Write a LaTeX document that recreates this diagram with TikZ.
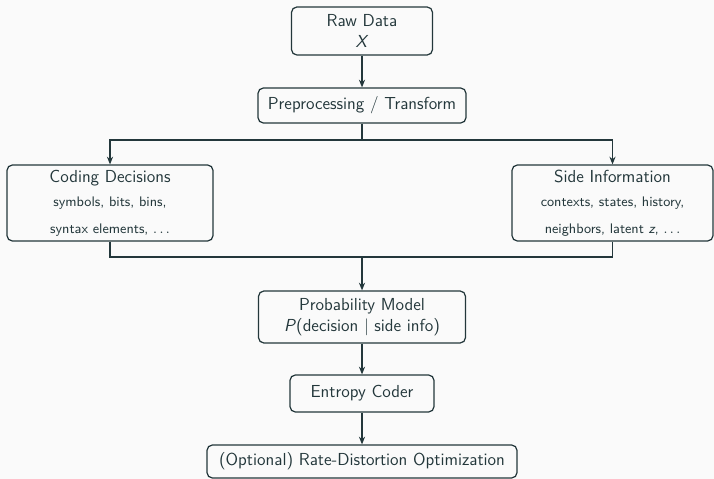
\documentclass[tikz,border=0pt]{standalone}
\usepackage{tikz}
\usetikzlibrary{positioning,arrows.meta,calc}
\definecolor{cBack}{HTML}{FAFAFA}
\definecolor{cInk}{HTML}{23373B}

\begin{document}
\begin{tikzpicture}[
  x=0.65pt,y=-0.65pt,
  font=\sffamily\fontsize{11.3}{13.5}\selectfont,
  color=cInk,
  >={Stealth[length=5pt,width=4pt]},
  block/.style={rounded corners=3.5pt,draw=cInk,line width=0.8pt,align=center,inner sep=2pt,text=cInk},
  sz/.style 2 args={minimum width=#1*0.65pt,minimum height=#2*0.65pt},
  flow/.style={->,line width=0.8pt,cInk},
  link/.style={line width=0.8pt,cInk},
]
\newcommand{\notesize}{\fontsize{9}{11}\selectfont}
\fill[cBack] (0,0) rectangle (714,479);
\useasboundingbox (0,0) rectangle (714,479);

% =====================================================================
% INPUT AND TRANSFORM
% =====================================================================
\node[block,sz={141}{48}] (raw) at (362,31) {Raw Data\\[0pt]\textit{X}};
\node[block,sz={208}{35}] (prep) at (362,105.5) {Preprocessing / Transform};

\draw[flow] (raw) -- (prep);

% =====================================================================
% DECISIONS AND SIDE INFORMATION
% =====================================================================
\node[block,sz={206}{76}] (decide) at (110,203)
  {Coding Decisions\\[2pt]{\notesize symbols, bits, bins,}\\[4pt]{\notesize syntax elements, $\ldots$}};
\node[block,sz={201}{76}] (side) at (612.5,203)
  {Side Information\\[2pt]{\notesize contexts, states, history,}\\[4pt]{\notesize neighbors, latent \textit{z}, $\ldots$}};

\coordinate (splitY) at (362,140);
\draw[link] (prep.south) -- (splitY);
\draw[flow] (splitY) -| (decide.north);
\draw[flow] (splitY) -| (side.north);

% =====================================================================
% MODEL, CODER, RDO
% =====================================================================
\node[block,sz={207}{52}] (model) at (362,317)
  {Probability Model\\[0pt]\textit{P}(decision $|$ side info)};
\node[block,sz={144}{37}] (coder) at (362,393.5) {Entropy Coder};
\node[block,sz={310}{33}] (rdo) at (362,461.5) {(Optional) Rate-Distortion Optimization};

\coordinate (joinY) at (362,257);
\draw[link] (decide.south) |- (joinY);
\draw[link] (side.south) |- (joinY);
\draw[flow] (joinY) -- (model.north);
\draw[flow] (model) -- (coder);
\draw[flow] (coder) -- (rdo);

\end{tikzpicture}
\end{document}
